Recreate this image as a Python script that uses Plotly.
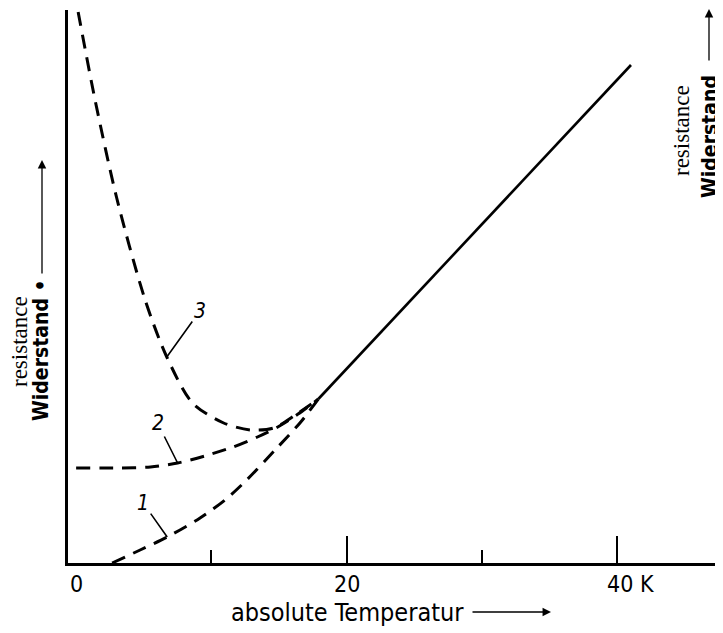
import numpy as np
import plotly.graph_objects as go

# ---- data (T in K, resistance in arbitrary units) ----
t_curve1 = [2.66, 4.73, 6.73, 9.16, 11.0, 12.6, 14.7, 16.6, 17.9]
r_curve1 = [0.0, 1.3, 2.6, 4.5, 6.3, 8.3, 11.3, 14.1, 16.4]

t_curve2 = [0.0, 3.25, 5.5, 7.5, 9.5, 11.6, 13.4, 14.9, 16.4, 17.9]
r_curve2 = [9.5, 9.5, 9.6, 10.0, 10.7, 11.6, 12.6, 13.6, 14.9, 16.4]

t_curve3 = [0.15, 1.4, 3.0, 5.1, 6.7, 8.6, 10.9, 12.9, 14.6, 16.2, 17.9]
r_curve3 = [55.1, 46.3, 36.5, 26.3, 20.6, 16.0, 14.0, 13.3, 13.5, 14.8, 16.4]

t_linear = [17.9, 41.0]
r_linear = [16.4, 49.8]

major_ticks = [20, 40]
minor_ticks = [10, 30]
tick_labels = ["0", "20", "40 K"]
tick_label_pos = [0, 20, 40]
curve_labels = ["1", "2", "3"]
label_T = [6.73, 7.5, 6.7]

cond = "DejaVu Sans Condensed, Liberation Sans Narrow, sans-serif"
serif = "Liberation Serif, DejaVu Serif, serif"

fig = go.Figure()
dash = "14px,9px"
for t, r in [(t_curve1, r_curve1), (t_curve2, r_curve2), (t_curve3, r_curve3)]:
    fig.add_trace(go.Scatter(x=t, y=r, mode="lines",
                             line=dict(color="black", width=3, dash=dash, shape="spline", smoothing=0.8),
                             hoverinfo="skip", showlegend=False))
fig.add_trace(go.Scatter(x=t_linear, y=r_linear, mode="lines",
                         line=dict(color="black", width=2.6), hoverinfo="skip", showlegend=False))

# page body has an 8px margin: figure is offset by 8px on screen
OFF = 8
W, H = 723 - OFF, 633 - OFF
L, R, T = 68 - OFF, 0, 10 - OFF
B = H - (563 - OFF)
pw, ph = W - L - R, H - T - B


def px(x):  # screen pixel -> paper x
    return (x - OFF - L) / pw


def py(y):  # screen pixel -> paper y
    return (H - B - (y - OFF)) / ph


ann = []
# tick labels
for v, s in zip(tick_label_pos, tick_labels):
    a = dict(x=v, y=0, xref="x", yref="paper", text=s, showarrow=False,
             yanchor="middle", yshift=-21, font=dict(family=cond, size=23, color="black"))
    if s.endswith("K"):
        a.update(xanchor="left", xshift=-12)
    else:
        a.update(xanchor="center")
    ann.append(a)

# x title + arrow
ann.append(dict(x=px(229), y=py(612), xref="paper", yref="paper", text="absolute Temperatur",
                showarrow=False, xanchor="left", yanchor="middle",
                font=dict(family=cond, size=25, color="black")))
ann.append(dict(x=px(551), y=py(612), xref="paper", yref="paper", text="",
                showarrow=True, ax=-80, ay=0, arrowhead=2, arrowsize=1.3, arrowwidth=1.3,
                arrowcolor="black"))

# left y title
ann.append(dict(x=px(19), y=py(342), xref="paper", yref="paper", text="resistance",
                showarrow=False, textangle=-90, xanchor="center", yanchor="middle",
                font=dict(family=serif, size=23, color="black")))
ann.append(dict(x=px(41), y=py(350), xref="paper", yref="paper", text="<b>Widerstand •</b>",
                showarrow=False, textangle=-90, xanchor="center", yanchor="middle",
                font=dict(family=cond, size=21, color="black")))
ann.append(dict(x=px(42), y=py(160), xref="paper", yref="paper", text="",
                showarrow=True, ax=0, ay=115, arrowhead=2, arrowsize=1.3, arrowwidth=1.3,
                arrowcolor="black"))

# right (cropped) y title
ann.append(dict(x=px(681), y=py(131), xref="paper", yref="paper", text="resistance",
                showarrow=False, textangle=-90, xanchor="center", yanchor="middle",
                font=dict(family=serif, size=23, color="black")))
ann.append(dict(x=px(710), y=py(137), xref="paper", yref="paper", text="<b>Widerstand</b>",
                showarrow=False, textangle=-90, xanchor="center", yanchor="middle",
                font=dict(family=cond, size=21, color="black")))
ann.append(dict(x=px(709), y=py(-4), xref="paper", yref="paper", text="",
                showarrow=True, ax=0, ay=66, arrowhead=2, arrowsize=1.3, arrowwidth=1.3,
                arrowcolor="black"))

# curve labels with leader lines
offsets = [(-24, -34), (-20, -40), (33, -46)]
curves = [(t_curve1, r_curve1), (t_curve2, r_curve2), (t_curve3, r_curve3)]
for lab, tx, (ox, oy), (tc, rc) in zip(curve_labels, label_T, offsets, curves):
    order = np.argsort(tc)
    ry = float(np.interp(tx, np.array(tc)[order], np.array(rc)[order]))
    ann.append(dict(x=tx, y=ry, xref="x", yref="y", text="<i>" + lab + "</i>",
                    showarrow=True, ax=ox, ay=oy, arrowhead=0, arrowwidth=1.6,
                    arrowcolor="black", standoff=0,
                    font=dict(family=cond, size=21, color="black")))

fig.update_layout(
    width=W, height=H, margin=dict(l=L, r=R, t=T, b=B),
    paper_bgcolor="white", plot_bgcolor="white",
    showlegend=False, annotations=ann,
    xaxis=dict(range=[-0.6, 47.8], showline=True, linecolor="black", linewidth=2.5,
               ticks="inside", tickvals=major_ticks, ticklen=27, tickwidth=2, tickcolor="black",
               showticklabels=False, showgrid=False, zeroline=False,
               minor=dict(tickvals=minor_ticks, ticks="inside", ticklen=13, tickwidth=2,
                          tickcolor="black", showgrid=False)),
    yaxis=dict(range=[0, 55.3], showline=True, linecolor="black", linewidth=2.5,
               ticks="", showticklabels=False, showgrid=False, zeroline=False),
)

fig.write_html("out.html")
